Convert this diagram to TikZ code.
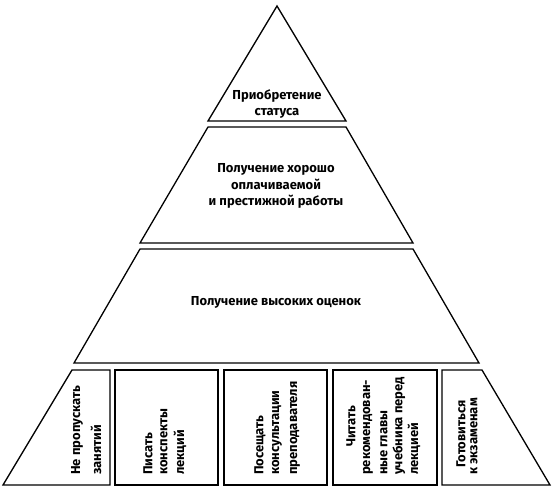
\documentclass[tikz,border=0pt]{standalone}
\usepackage{fontspec}
\setmainfont{Fira Sans}
\begin{document}
\begin{tikzpicture}[x=1pt,y=-1pt,
  lvl/.style={draw=black,line width=1.3pt,line join=miter},
  lbl/.style={font=\fontsize{13}{16.5}\selectfont\bfseries, align=center, inner sep=0pt},
  vl/.style={font=\fontsize{13}{14}\selectfont\bfseries, rotate=90, anchor=west, inner sep=0pt},
  vle/.style={vl, anchor=east}]
\useasboundingbox (0,0) rectangle (553,489);
% levels
\draw[lvl] (277,6) -- (346,121) -- (208,121) -- cycle;
\draw[lvl] (208,127) -- (346,127) -- (413,243) -- (140,243) -- cycle;
\draw[lvl] (140,249) -- (413,249) -- (479,363) -- (74,363) -- cycle;
\draw[lvl] (72,370) -- (110,370) -- (110,485) -- (3,485) -- cycle;
\draw[lvl] (115,370) rectangle (218,485);
\draw[lvl] (224,370) rectangle (327,485);
\draw[lvl] (333,370) rectangle (437,485);
\draw[lvl] (442,370) -- (482,370) -- (550,485) -- (442,485) -- cycle;
% texts
\node[lbl] (t1) at (277,104) {Приобретение\\статуса};
\node[lbl] (t2) at (276,186) {Получение хорошо\\оплачиваемой\\и престижной работы};
\node[lbl] (t3) at (276,302) {Получение высоких оценок};
% bottom boxes
\node[vl] (a1) at (77,475) {Не пропускать};
\node[vl] (a2) at (96,475) {занятий};
\node[vl] (b1) at (148,475) {Писать};
\node[vl] (b2) at (164,475) {конспекты};
\node[vl] (b3) at (180,475) {лекций};
\node[vl] (c1) at (260,475) {Посещать};
\node[vl] (c2) at (277,475) {консультации};
\node[vl] (c3) at (295,475) {преподавателя};
\node[vl] (d1) at (351,447) {Читать};
\node[vl] (d2) at (368,475) {рекомендован-};
\node[vl] (d3) at (384,475) {ные главы};
\node[vl] (d4) at (399,475) {учебника перед};
\node[vl] (d5) at (414,475) {лекцией};
\node[vle] (e1) at (461,400) {Готовиться};
\node[vle] (e2) at (474,398) {к экзаменам};
\end{tikzpicture}
\end{document}
